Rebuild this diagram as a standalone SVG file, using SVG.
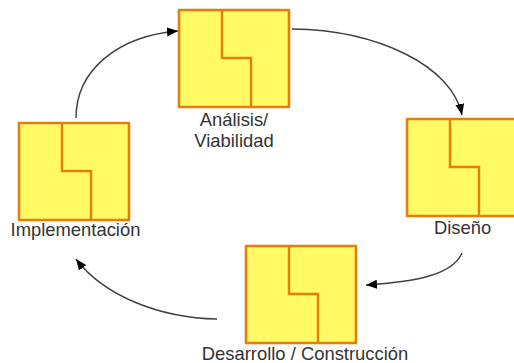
<svg xmlns="http://www.w3.org/2000/svg" width="514" height="363" viewBox="0 0 514 363">
  <style>
    .box { fill: #FFFA66; stroke: #E57E0A; stroke-width: 2.6; stroke-linejoin: round; }
    .div { fill: none; stroke: #E57E0A; stroke-width: 2.4; }
    .lbl { font-family: "Liberation Sans", Arial, sans-serif; font-size: 18.4px; fill: #333333; text-anchor: middle; }
    .arc { fill: none; stroke: #404040; stroke-width: 1.4; marker-end: url(#head); }
  </style>
  <defs>
    <marker id="head" markerUnits="userSpaceOnUse" markerWidth="12" markerHeight="10" refX="11" refY="4.5" orient="auto">
      <path d="M0,0 L11,4.5 L0,9 Z" fill="#000000"/>
    </marker>
    <!-- box with stepped divider, origin at top-left -->
    <g id="tile">
      <rect class="box" x="0" y="0" width="110" height="97"/>
      <path class="div" d="M43,0 V48 H72 V97"/>
    </g>
  </defs>

  <g id="connectors">
    <path class="arc" d="M76,118 C76,70 118,36 178,31"/>
    <path class="arc" d="M292,29 C378,30 452,66 462,115"/>
    <path class="arc" d="M462,253 C452,276 412,282 366,285"/>
    <path class="arc" d="M217,319 C160,318 104,296 76,259"/>
  </g>

  <g id="analisis">
    <use href="#tile" x="179" y="10"/>
    <text class="lbl" x="234" y="126">Análisis/</text>
    <text class="lbl" x="234" y="147">Viabilidad</text>
  </g>

  <g id="diseno">
    <use href="#tile" x="407" y="119"/>
    <text class="lbl" x="462.5" y="234">Diseño</text>
  </g>

  <g id="desarrollo">
    <use href="#tile" x="246" y="246"/>
    <text class="lbl" x="305" y="360">Desarrollo / Construcción</text>
  </g>

  <g id="implementacion">
    <use href="#tile" x="19" y="123"/>
    <text class="lbl" x="75.5" y="236">Implementación</text>
  </g>
</svg>
